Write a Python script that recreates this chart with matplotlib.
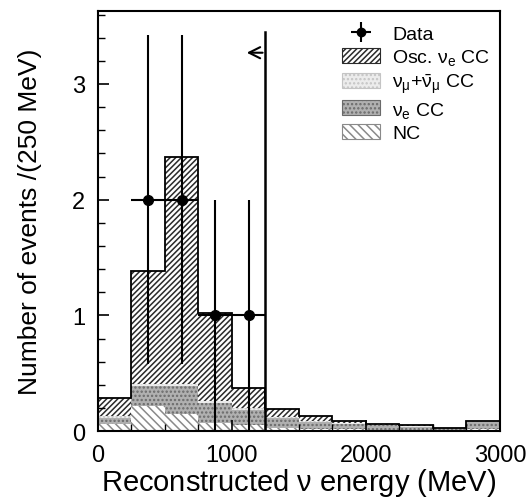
import matplotlib.pyplot as plt
import numpy as np
from matplotlib.patches import Patch
from matplotlib.ticker import MultipleLocator

plt.rcParams['font.family'] = ['Liberation Sans', 'DejaVu Sans']
plt.rcParams['mathtext.fontset'] = 'custom'
plt.rcParams['mathtext.rm'] = 'Liberation Sans'
plt.rcParams['mathtext.it'] = 'Liberation Sans'
plt.rcParams['hatch.linewidth'] = 1.1

# 250 MeV bins from 0 to 3000 MeV
edges = np.arange(0, 3001, 250)
nc = [0.06, 0.22, 0.15, 0.07, 0.05, 0.03, 0.02, 0.015, 0.01, 0.01, 0.008, 0.02]
ve_cc = [0.05, 0.17, 0.24, 0.17, 0.13, 0.08, 0.06, 0.045, 0.04, 0.03, 0.02, 0.06]
numu_cc = [0.02, 0.02, 0.02, 0.02, 0.02, 0.01, 0.01, 0.01, 0.008, 0.005, 0.002, 0.01]
osc_ve = [0.16, 0.97, 1.96, 0.76, 0.17, 0.07, 0.04, 0.02, 0.007, 0.005, 0.0, 0.0]

# data points
data_x = [375, 625, 875, 1125]
data_y = [2, 2, 1, 1]
data_xerr = [125, 125, 125, 125]
data_yerr_lo = [1.42, 1.42, 1.0, 1.0]
data_yerr_hi = [1.42, 1.42, 1.0, 1.0]

cut_energy = 1250

fig = plt.figure(figsize=(5.29, 5.02), dpi=100)
ax = fig.add_axes([0.185, 0.139, 0.76, 0.837])

styles = [
    (nc, 'white', '#8a8a8a', '\\\\\\\\'),
    (ve_cc, '#b0b0b0', '#6a6a6a', '....'),
    (numu_cc, '#ececec', '#c4c4c4', '....'),
    (osc_ve, 'white', '#2a2a2a', '//////'),
]
left = edges[:-1]
bottom = np.zeros(len(left))
for vals, fc, hc, hatch in styles:
    ax.bar(left, vals, width=250, bottom=bottom, align='edge', color=fc,
           edgecolor=hc, hatch=hatch, linewidth=0)
    bottom = bottom + np.array(vals)

ax.stairs(bottom, edges, color='black', linewidth=1.3)

ax.errorbar(data_x, data_y, xerr=data_xerr, yerr=[data_yerr_lo, data_yerr_hi],
            fmt='o', color='black', markersize=7, elinewidth=1.5, capsize=0, zorder=5)

ax.plot([cut_energy, cut_energy], [0, 3.45], color='black', linewidth=1.8, zorder=5)
ax.annotate('', xy=(cut_energy - 160, 3.27), xytext=(cut_energy, 3.27),
            arrowprops=dict(arrowstyle='->', color='black', lw=1.5, mutation_scale=20))

ax.set_xlim(0, 3000)
ax.set_ylim(0, 3.63)
ax.xaxis.set_major_locator(MultipleLocator(1000))
ax.xaxis.set_minor_locator(MultipleLocator(250))
ax.yaxis.set_major_locator(MultipleLocator(1))
ax.yaxis.set_minor_locator(MultipleLocator(0.2))
ax.tick_params(which='both', direction='in', labelsize=17, pad=9)
ax.tick_params(which='major', length=8, width=1.2)
ax.tick_params(which='minor', length=5, width=1.0)
for s in ax.spines.values():
    s.set_linewidth(1.5)

ax.set_xlabel(r'Reconstructed $\nu$ energy (MeV)', fontsize=21, labelpad=0)
ax.set_ylabel('Number of events /(250 MeV)', fontsize=19, labelpad=22)

handles = [
    ax.errorbar([], [], yerr=[], xerr=[], fmt='o', color='black', markersize=6, capsize=0),
    Patch(facecolor='white', edgecolor='#2a2a2a', hatch='//////', linewidth=0.8),
    Patch(facecolor='#ececec', edgecolor='#c4c4c4', hatch='....', linewidth=0.8),
    Patch(facecolor='#b0b0b0', edgecolor='#6a6a6a', hatch='....', linewidth=0.8),
    Patch(facecolor='white', edgecolor='#8a8a8a', hatch='\\\\\\\\', linewidth=0.8),
]
labels = ['Data', r'Osc. $\nu_e$ CC', r'$\nu_\mu$+$\bar{\nu}_\mu$ CC', r'$\nu_e$ CC', 'NC']
ax.legend(handles, labels, loc='upper right', bbox_to_anchor=(1.005, 0.995), frameon=False,
          fontsize=14, handlelength=2.0, handleheight=0.8, labelspacing=0.22,
          handletextpad=0.6, borderaxespad=0.2)

fig.savefig('out.png', dpi=100)
